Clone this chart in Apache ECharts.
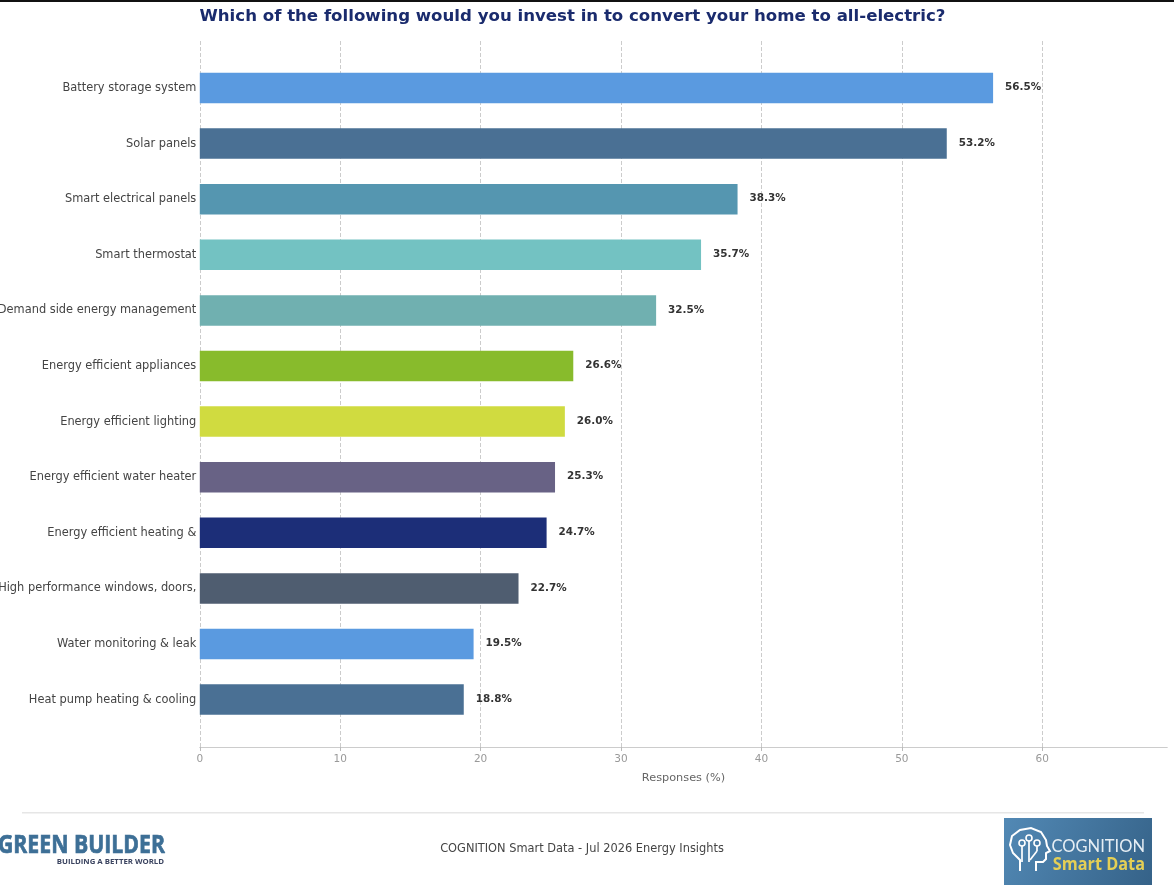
<!DOCTYPE html>
<html><head><meta charset="utf-8">
<style>html,body{margin:0;padding:0;background:#fff}#c{width:1174px;height:887px}</style>
<script src="https://cdn.jsdelivr.net/npm/echarts@6/dist/echarts.min.js"></script>
</head><body><div id="c"></div>
<script>
const categories = ["Battery storage system","Solar panels","Smart electrical panels","Smart thermostat","Demand side energy management","Energy efficient appliances","Energy efficient lighting","Energy efficient water heater","Energy efficient heating &","High performance windows, doors,","Water monitoring & leak","Heat pump heating & cooling"];
const values = [56.5,53.2,38.3,35.7,32.5,26.6,26.0,25.3,24.7,22.7,19.5,18.8];
const barColors = ["#5a9ae0","#4a7094","#5596b0","#73c2c2","#70b0b0","#88bb2c","#d0db40","#686285","#1c2e78","#4f5d70","#5a9ae0","#4a7094"];
const tickValues = [0,10,20,30,40,50,60];
const titleText = "Which of the following would you invest in to convert your home to all-electric?";
const axisName = "Responses (%)";
const footerText = "COGNITION Smart Data - Jul 2026 Energy Insights";
const F = '"DejaVu Sans", sans-serif';
const chart = echarts.init(document.getElementById('c'), null, {renderer:'canvas'});
const xMax = 68.9;
function seg(x1,y1,x2,y2){return {type:'line',shape:{x1,y1,x2,y2},style:{stroke:'#fff',lineWidth:1.7},z:12};}
function dot(cx,cy){return {type:'circle',shape:{cx,cy,r:3},style:{fill:'none',stroke:'#fff',lineWidth:1.6},z:12};}
chart.setOption({
  animation:false,
  backgroundColor:'#fff',
  textStyle:{fontFamily:F},
  title:{text:titleText,left:194.5,top:3,textStyle:{fontFamily:F,fontWeight:'bold',fontSize:16.6,color:'#1a2b6d'}},
  grid:[
    {left:199.8,right:6.8,top:41,bottom:140,outerBoundsMode:'none'},
    {left:199.8,right:6.8,top:60.2,bottom:159.6,outerBoundsMode:'none'}
  ],
  xAxis:[
    {gridIndex:0,type:'value',min:0,max:xMax,interval:10,
     name:axisName,nameLocation:'middle',nameGap:25.5,nameTextStyle:{fontSize:11.3,color:'#666',fontFamily:F},
     axisLine:{show:true,lineStyle:{color:'#ccc',width:1.2}},
     axisTick:{show:true,length:4,lineStyle:{color:'#bbb'},customValues:tickValues},
     axisLabel:{fontSize:10.5,color:'#999',fontFamily:F,margin:7,customValues:tickValues},
     splitLine:{show:true,lineStyle:{color:'#ccc',type:'dashed',width:1}}},
    {gridIndex:1,type:'value',min:0,max:xMax,show:false,splitLine:{show:false}}
  ],
  yAxis:[
    {gridIndex:0,type:'category',data:categories,show:false},
    {gridIndex:1,type:'category',inverse:true,data:categories,
     axisLine:{show:false},axisTick:{show:false},
     axisLabel:{fontSize:11.4,color:'#444',fontFamily:F,margin:3.5,padding:[1.5,0,0,0],hideOverlap:false,interval:0}}
  ],
  series:[{
    type:'bar',xAxisIndex:1,yAxisIndex:1,barWidth:30.5,
    data:values.map((v,i)=>({value:v,itemStyle:{color:barColors[i]}})),
    label:{show:true,position:'right',distance:12,offset:[0,-0.5],formatter:p=>p.value.toFixed(1)+'%',fontSize:10.4,fontWeight:'bold',color:'#333',fontFamily:F}
  }],
  graphic:[
    {type:'rect',shape:{x:0,y:0,width:1174,height:2},style:{fill:'#111'},z:10},
    {type:'rect',shape:{x:22,y:812,width:1122,height:1.5},style:{fill:'#e6e6e6'},z:10},
    {type:'text',x:582,y:849,style:{text:footerText,fontFamily:F,fontSize:11.4,fill:'#444',align:'center',verticalAlign:'middle'},z:10},
    {type:'text',x:165,y:846,scaleX:0.85,style:{text:'GREEN BUILDER',fontFamily:'"Open Sans", sans-serif',fontWeight:'bold',fontSize:25,fill:'#3d6f96',stroke:'#3d6f96',lineWidth:0.7,align:'right',verticalAlign:'middle'},z:10},
    {type:'text',x:164,y:861.5,style:{text:'BUILDING A BETTER WORLD',fontFamily:'"Open Sans", sans-serif',fontWeight:'bold',fontSize:7.8,fill:'#3b4460',align:'right',verticalAlign:'middle'},z:10},
    {type:'rect',shape:{x:1004,y:818,width:148,height:67},style:{fill:new echarts.graphic.LinearGradient(0,0,1,1,[{offset:0,color:'#5289b5'},{offset:1,color:'#356288'}])},z:10},
    {type:'text',x:1145,y:847,style:{text:'COGNITION',fontFamily:'Lato, sans-serif',fontSize:16.5,fill:'#e6eef4',align:'right',verticalAlign:'middle'},z:12},
    {type:'text',x:1145,y:865,scaleX:0.88,style:{text:'Smart Data',fontFamily:'"Open Sans", sans-serif',fontWeight:'bold',fontSize:18.5,fill:'#e4cf55',align:'right',verticalAlign:'middle'},z:12},
    {type:'polyline',shape:{points:[[1020,871],[1020,860],[1013,853],[1010,845],[1012,836],[1020,830],[1031,828],[1041,832],[1046,840],[1047,846],[1050,851],[1046,853],[1046,859],[1043,862],[1036,862],[1036,871]]},style:{fill:'none',stroke:'#fff',lineWidth:2},z:12},
    seg(1022,862,1022,846),dot(1022,843),
    seg(1029,862,1029,841),dot(1029,838),
    seg(1030,860,1037,851),seg(1037,851,1037,846),dot(1037,843)
  ]
});
</script></body></html>
